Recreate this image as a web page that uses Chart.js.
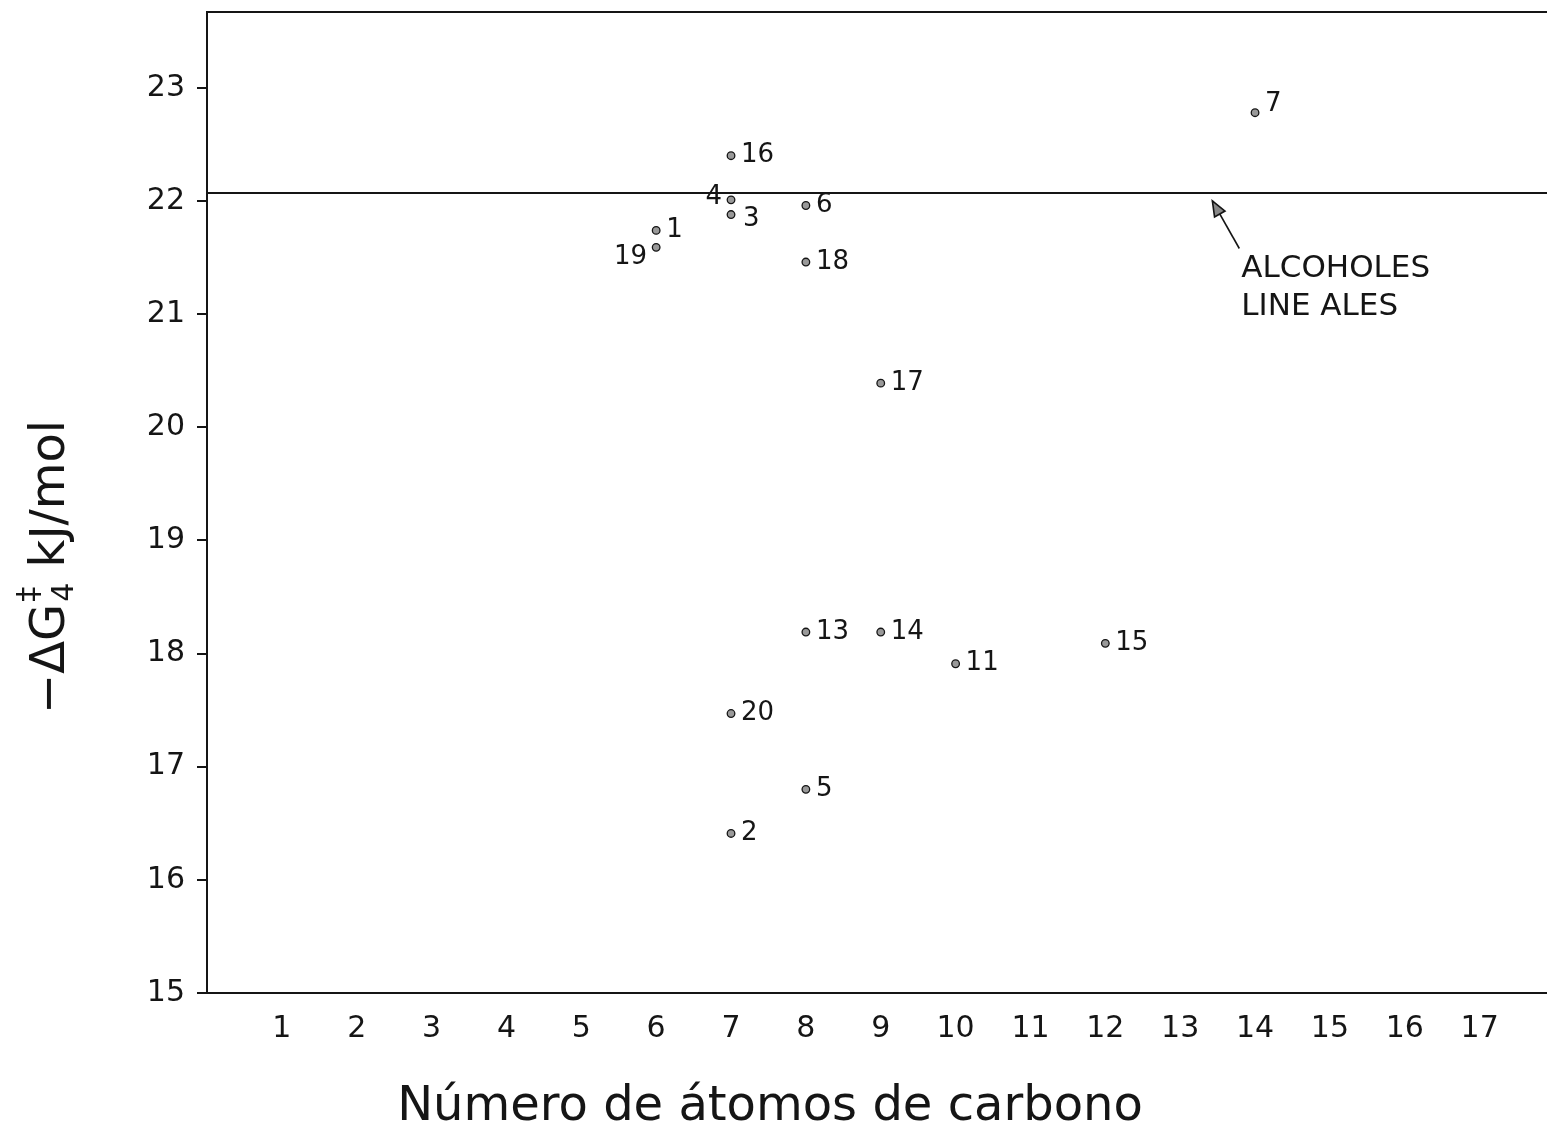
<!DOCTYPE html>
<html>
<head>
<meta charset="utf-8">
<script src="https://cdn.jsdelivr.net/npm/chart.js@4.4.1/dist/chart.umd.min.js"></script>
<style>
  html, body { margin: 0; padding: 0; background: #fff; overflow: hidden; }
  #wrap { width: 1547px; height: 1147px; position: relative; }
</style>
</head>
<body>
<div id="wrap"><canvas id="chart"></canvas></div>
<script>
// compound numbers, carbon atoms and -dG values
const compoundIds = ['7', '16', '4', '3', '6', '1', '19', '18', '17', '13', '14', '11', '15', '20', '5', '2'];
const carbonAtoms = [14, 7, 7, 7, 8, 6, 6, 8, 9, 8, 9, 10, 12, 7, 8, 7];
const deltaG = [22.78, 22.40, 22.01, 21.88, 21.96, 21.74, 21.59, 21.46, 20.39, 18.19, 18.19, 17.91, 18.09, 17.47, 16.80, 16.41];
// where the number sits next to its point
const labelSide = ['up', 'right', 'left', 'down', 'right', 'right', 'left', 'right', 'right', 'right', 'right', 'right', 'right', 'right', 'right', 'right'];

const alcoholLevel = 22.07;   // linear alcohols line
const xTicks = [1, 2, 3, 4, 5, 6, 7, 8, 9, 10, 11, 12, 13, 14, 15, 16, 17];
const yTicks = [15, 16, 17, 18, 19, 20, 21, 22, 23];

const ink = '#151515';
const fontFam = '"DejaVu Sans", "Liberation Sans", sans-serif';

const points = carbonAtoms.map((c, i) => ({ x: c, y: deltaG[i] }));

const pointLabels = {
  id: 'pointLabels',
  afterDatasetsDraw(chart) {
    const ctx = chart.ctx;
    const meta = chart.getDatasetMeta(0);
    ctx.save();
    ctx.fillStyle = ink;
    ctx.font = '26px ' + fontFam;
    ctx.textBaseline = 'middle';
    meta.data.forEach((el, i) => {
      const side = labelSide[i];
      let x = el.x + 10, y = el.y;
      ctx.textAlign = 'left';
      if (side === 'left') { ctx.textAlign = 'right'; x = el.x - 9; y = el.y + (compoundIds[i] === '19' ? 10 : -3); }
      if (side === 'up') { y = el.y - 8; x = el.x + 10; }
      if (side === 'down') { y = el.y + 5; x = el.x + 12; }
      ctx.fillText(compoundIds[i], x, y);
    });
    ctx.restore();
  }
};

const extras = {
  id: 'extras',
  afterDraw(chart) {
    const ctx = chart.ctx;
    const xs = chart.scales.x, ys = chart.scales.y;
    const area = chart.chartArea;
    ctx.save();
    ctx.strokeStyle = ink;
    ctx.fillStyle = ink;
    // top frame line
    ctx.lineWidth = 2;
    ctx.beginPath();
    ctx.moveTo(area.left, area.top);
    ctx.lineTo(area.right, area.top);
    ctx.stroke();

    // arrow to the alcohols line
    const tipX = xs.getPixelForValue(13.43), tipY = ys.getPixelForValue(22.0);
    const tailX = xs.getPixelForValue(13.79), tailY = ys.getPixelForValue(21.58);
    ctx.lineWidth = 1.6;
    ctx.beginPath();
    ctx.moveTo(tailX, tailY);
    ctx.lineTo(tipX, tipY);
    ctx.stroke();
    const ang = Math.atan2(tipY - tailY, tipX - tailX);
    const hl = 15, hw = 6;
    ctx.beginPath();
    ctx.moveTo(tipX, tipY);
    ctx.lineTo(tipX - hl * Math.cos(ang) + hw * Math.sin(ang), tipY - hl * Math.sin(ang) - hw * Math.cos(ang));
    ctx.lineTo(tipX - hl * Math.cos(ang) - hw * Math.sin(ang), tipY - hl * Math.sin(ang) + hw * Math.cos(ang));
    ctx.closePath();
    ctx.fillStyle = '#888';
    ctx.fill();
    ctx.stroke();

    ctx.fillStyle = ink;
    ctx.font = '31px ' + fontFam;
    ctx.textAlign = 'left';
    ctx.textBaseline = 'middle';
    ctx.fillText('ALCOHOLES', tailX + 2, tailY + 20);
    ctx.fillText('LINE ALES', tailX + 2, tailY + 58);

    // y axis title with sub/superscript
    ctx.save();
    ctx.translate(64, 714);
    ctx.rotate(-Math.PI / 2);
    ctx.textAlign = 'left';
    ctx.textBaseline = 'alphabetic';
    ctx.font = '48px ' + fontFam;
    let px = 0;
    ctx.fillText('\u2212\u0394G', px, 0);
    px += ctx.measureText('\u2212\u0394G').width + 2;
    ctx.font = '30px ' + fontFam;
    ctx.fillText('4', px, 9);
    ctx.fillText('\u2021', px, -26);
    px += ctx.measureText('4').width;
    ctx.font = '48px ' + fontFam;
    ctx.fillText(' kJ/mol', px, 0);
    ctx.restore();

    // x axis title
    ctx.font = '48px ' + fontFam;
    ctx.textAlign = 'center';
    ctx.textBaseline = 'middle';
    ctx.fillText('N\u00famero de \u00e1tomos de carbono', 770, 1108);
    ctx.restore();
  }
};

new Chart(document.getElementById('chart'), {
  type: 'scatter',
  data: {
    datasets: [
      {
        label: 'compuestos',
        data: points,
        pointRadius: 3.8,
        pointHoverRadius: 3.8,
        pointBackgroundColor: '#999',
        pointBorderColor: ink,
        pointBorderWidth: 1.3
      },
      {
        label: 'alcoholes lineales',
        data: [{ x: 0, y: alcoholLevel }, { x: 17.9, y: alcoholLevel }],
        showLine: true,
        pointRadius: 0,
        borderColor: ink,
        borderWidth: 2
      }
    ]
  },
  options: {
    responsive: true,
    maintainAspectRatio: false,
    animation: false,
    layout: { autoPadding: false, padding: { top: 12, right: 0, left: 0, bottom: 0 } },
    plugins: { legend: { display: false }, tooltip: { enabled: false } },
    scales: {
      x: {
        type: 'linear',
        min: 0,
        max: 17.9,
        afterBuildTicks: (s) => { s.ticks = xTicks.map(v => ({ value: v })); },
        afterFit: (s) => { s.height = 154; s.paddingLeft = 0; s.paddingRight = 0; },
        grid: { display: false, drawTicks: false },
        border: { display: true, color: ink, width: 2 },
        ticks: { color: ink, padding: 18, font: { size: 30, family: fontFam }, maxRotation: 0, autoSkip: false }
      },
      y: {
        type: 'linear',
        min: 15,
        max: 23.67,
        afterBuildTicks: (s) => { s.ticks = yTicks.map(v => ({ value: v })); },
        afterFit: (s) => { s.width = 207; s.paddingTop = 0; s.paddingBottom = 0; },
        grid: { drawOnChartArea: false, drawTicks: true, tickLength: 10, color: ink, lineWidth: 2 },
        border: { display: true, color: ink, width: 2 },
        ticks: { color: ink, padding: 12, font: { size: 30, family: fontFam }, autoSkip: false }
      }
    }
  },
  plugins: [pointLabels, extras]
});
</script>
</body>
</html>
